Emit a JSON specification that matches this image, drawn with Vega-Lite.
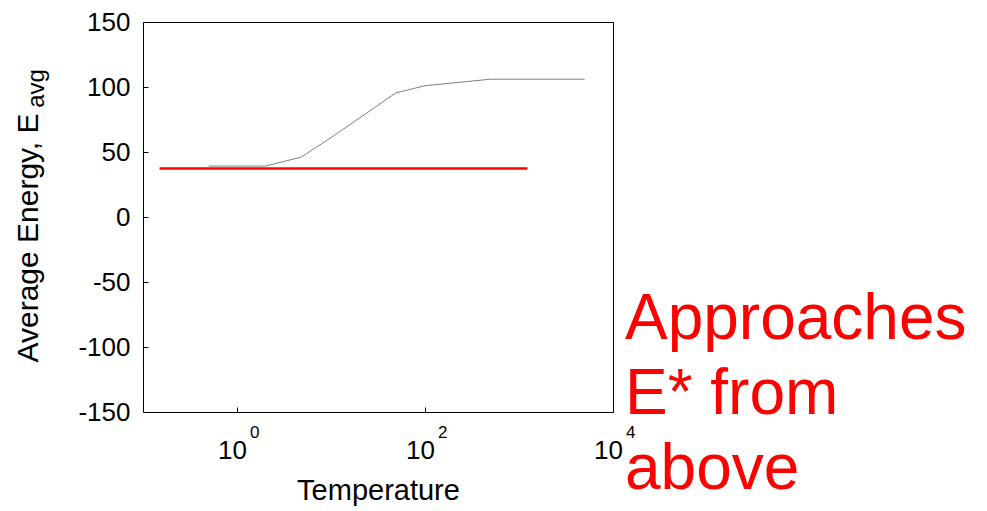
{
  "$schema": "https://vega.github.io/schema/vega-lite/v6.json",
  "width": 470,
  "height": 390,
  "autosize": "none",
  "padding": {"left": 143, "top": 22, "right": 374, "bottom": 99},
  "background": "white",
  "config": {
    "font": "Liberation Sans",
    "view": {"stroke": "black", "strokeWidth": 1},
    "axis": {"grid": false, "domain": false, "labelColor": "black", "titleColor": "black", "tickColor": "black", "labelFont": "Liberation Sans", "titleFont": "Liberation Sans", "titleFontWeight": "normal"}
  },
  "datasets": {
    "sim": [
      {"T": 0.5, "E": 39.2},
      {"T": 2, "E": 39.2},
      {"T": 4.8, "E": 46},
      {"T": 10, "E": 61},
      {"T": 49, "E": 95.5},
      {"T": 100, "E": 101},
      {"T": 500, "E": 106},
      {"T": 5000, "E": 106}
    ],
    "estar": [
      {"T": 0.15, "E": 37.3},
      {"T": 1230, "E": 37.3}
    ],
    "sup": [
      {"T": 1, "s": "0"},
      {"T": 100, "s": "2"},
      {"T": 10000, "s": "4"}
    ],
    "note": [
      {"T": 13400, "E": -94.1, "t": "Approaches"},
      {"T": 13400, "E": -151.8, "t": "E* from"},
      {"T": 13400, "E": -209.5, "t": "above"}
    ],
    "sub": [
      {"T": 0.0088, "E": 84, "t": "avg"}
    ]
  },
  "layer": [
    {
      "data": {"name": "sim"},
      "mark": {"type": "line", "color": "#7f7f7f", "strokeWidth": 1},
      "encoding": {
        "x": {
          "field": "T", "type": "quantitative",
          "scale": {"type": "log", "domain": [0.1, 10000], "nice": false},
          "axis": {
            "values": [1, 100, 10000],
            "labelExpr": "'10'",
            "labelFontSize": 26,
            "labelOffset": -5,
            "labelFlush": false,
            "labelBaseline": "alphabetic",
            "labelPadding": 51,
            "tickSize": -5,
            "title": "Temperature",
            "titleFontSize": 29,
            "titlePadding": 13
          }
        },
        "y": {
          "field": "E", "type": "quantitative",
          "scale": {"domain": [-150, 150], "nice": false},
          "axis": {
            "values": [-150, -100, -50, 0, 50, 100, 150],
            "labelExpr": "'' + datum.value",
            "labelFontSize": 26,
            "labelPadding": 18,
            "tickSize": -5,
            "title": "Average Energy, E",
            "titleFontSize": 30,
            "titleAngle": -90,
            "titleAlign": "left",
            "titleBaseline": "alphabetic",
            "titleX": -106,
            "titleY": 340
          }
        }
      }
    },
    {
      "data": {"name": "estar"},
      "mark": {"type": "line", "color": "#ff0000", "strokeWidth": 2.5},
      "encoding": {
        "x": {"field": "T", "type": "quantitative"},
        "y": {"field": "E", "type": "quantitative"}
      }
    },
    {
      "data": {"name": "sup"},
      "mark": {"type": "text", "align": "left", "baseline": "alphabetic", "fontSize": 17, "dx": 13, "dy": 26, "color": "black", "font": "Liberation Sans"},
      "encoding": {
        "x": {"field": "T", "type": "quantitative"},
        "y": {"datum": -150, "type": "quantitative"},
        "text": {"field": "s"}
      }
    },
    {
      "data": {"name": "sub"},
      "mark": {"type": "text", "align": "left", "baseline": "alphabetic", "angle": 270, "fontSize": 24, "color": "black", "font": "Liberation Sans"},
      "encoding": {
        "x": {"field": "T", "type": "quantitative"},
        "y": {"field": "E", "type": "quantitative"},
        "text": {"field": "t"}
      }
    },
    {
      "data": {"name": "note"},
      "mark": {"type": "text", "align": "left", "baseline": "alphabetic", "fontSize": 64, "color": "#ff0000", "font": "Liberation Sans"},
      "encoding": {
        "x": {"field": "T", "type": "quantitative"},
        "y": {"field": "E", "type": "quantitative"},
        "text": {"field": "t"}
      }
    }
  ]
}
